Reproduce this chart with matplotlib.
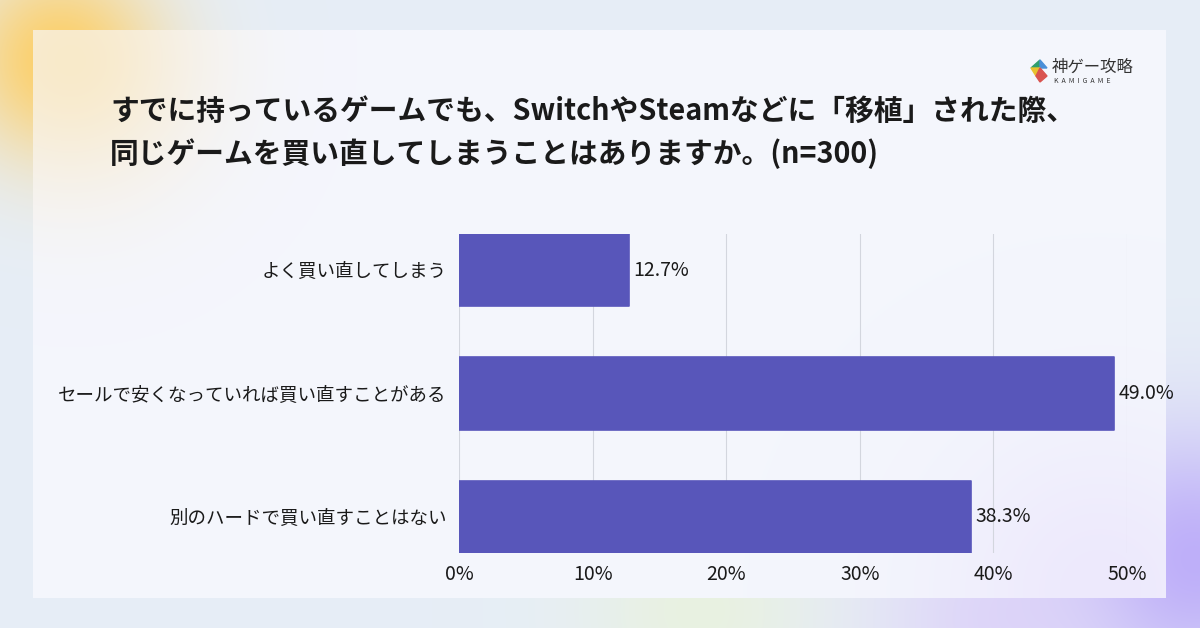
import matplotlib
matplotlib.use("Agg")
import matplotlib.pyplot as plt
import numpy as np
from matplotlib.patches import Polygon

plt.rcParams['font.family'] = ['Noto Sans CJK JP', 'DejaVu Sans']

# データ
kotae = ["よく買い直してしまう",
         "セールで安くなっていれば買い直すことがある",
         "別のハードで買い直すことはない"]
wariai = [12.7, 49.0, 38.3]
memori = [0, 10, 20, 30, 40, 50]
midashi = ("すでに持っているゲームでも、SwitchやSteamなどに「移植」された際、\n"
           "同じゲームを買い直してしまうことはありますか。(n=300)")

W, H = 1200, 628
fig = plt.figure(figsize=(W / 100, H / 100), dpi=100)

# 背景(ぼかしグラデーション)
bg = fig.add_axes([0, 0, 1, 1])
bg.axis("off")
yy, xx = np.mgrid[0:H, 0:W]
img = np.ones((H, W, 3)) * np.array([0.905, 0.933, 0.965])

def blob(im, cx, cy, r, col, a):
    g = np.exp(-(((xx - cx) ** 2 + (yy - cy) ** 2) / (2 * r ** 2)))[..., None] * a
    return im * (1 - g) + np.array(col) * g

img = blob(img, 60, 60, 70, (1.0, 0.80, 0.35), 0.9)
img = blob(img, 1190, 560, 90, (0.70, 0.62, 0.98), 0.8)
img = blob(img, 1000, 620, 90, (0.85, 0.78, 0.98), 0.6)
img = blob(img, 700, 610, 80, (0.92, 0.96, 0.80), 0.5)
bg.imshow(img, extent=(0, W, H, 0), aspect="auto")

# カード
card = np.ones((H, W, 3)) * np.array([0.957, 0.965, 0.992])
card = blob(card, 70, 60, 90, (1.0, 0.86, 0.55), 0.45)
card = blob(card, 1100, 590, 110, (0.88, 0.82, 0.99), 0.35)
bg.imshow(card[30:598, 33:1166], extent=(33, 1166, 598, 30), aspect="auto")
bg.set_xlim(0, W)
bg.set_ylim(H, 0)

# タイトル
fig.text(110 / W, 1 - 96 / H, midashi, fontsize=20.7, fontweight="bold",
         color="#1a1a1a", va="top", ha="left", linespacing=1.5)

# ロゴ
bg.add_patch(Polygon([[1031, 68], [1040, 60], [1040, 68]], color="#2f9e6e"))
bg.add_patch(Polygon([[1040, 60], [1047, 68], [1040, 68]], color="#4a8fd8"))
bg.add_patch(Polygon([[1031, 68], [1040, 68], [1036, 76]], color="#e8c12f"))
bg.add_patch(Polygon([[1036, 76], [1040, 68], [1047, 76], [1040, 82]], color="#d9534f"))
bg.text(1052, 67, "神ゲー攻略", fontsize=11.8, color="#333333", va="center", ha="left")
bg.text(1054, 81, "K  A  M  I  G  A  M  E", fontsize=5, color="#333333", va="center", ha="left")

# グラフ
ax = fig.add_axes([459 / W, 75 / H, 668 / W, 319 / H])
ax.patch.set_alpha(0)
y = np.arange(len(kotae))
h = 0.585
ax.barh(y, wariai, height=h, color="#5856BA", edgecolor="#5856BA",
        linewidth=1.2, joinstyle="round", zorder=3)
for yi, v in zip(y, wariai):
    ax.text(v + 0.35, yi, f"{v:.1f}%", va="center", ha="left", fontsize=14, color="#1a1a1a")
ax.set_xlim(0, 50)
ax.set_ylim(len(kotae) - 1 + h / 2, -h / 2)
ax.set_yticks(y)
ax.set_yticklabels(kotae, fontsize=13.3, color="#1a1a1a")
ax.set_xticks(memori)
ax.set_xticklabels([f"{m}%" for m in memori], fontsize=14, color="#1a1a1a")
ax.tick_params(axis="both", length=0)
ax.tick_params(axis="y", pad=9)
ax.tick_params(axis="x", pad=8)
ax.grid(axis="x", color="#d3d6de", linewidth=0.8, zorder=0)
for s in ax.spines.values():
    s.set_visible(False)

fig.savefig("out.png", dpi=100)
